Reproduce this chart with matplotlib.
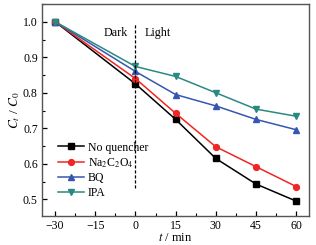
import matplotlib
matplotlib.use("Agg")
import matplotlib.pyplot as plt
from matplotlib.ticker import MultipleLocator

plt.rcParams["font.family"] = ["Liberation Serif", "DejaVu Serif"]
plt.rcParams["mathtext.fontset"] = "stix"

t = [-30, 0, 15, 30, 45, 60]
no_quencher = [1.0, 0.825, 0.725, 0.615, 0.543, 0.495]
na2c2o4 = [1.0, 0.840, 0.742, 0.648, 0.592, 0.536]
bq = [1.0, 0.860, 0.795, 0.763, 0.725, 0.696]
ipa = [1.0, 0.874, 0.846, 0.800, 0.754, 0.734]

fig = plt.figure(figsize=(3.16, 2.45), dpi=100)
ax = fig.add_axes([42 / 316, 1 - 216 / 245, 267 / 316, 212 / 245])

ax.plot(t, no_quencher, color="black", marker="s", ms=4, lw=1.1, label="No quencher")
ax.plot(t, na2c2o4, color="#f02525", marker="o", ms=4.2, lw=1.1, label="Na$_2$C$_2$O$_4$")
ax.plot(t, bq, color="#3557b0", marker="^", ms=4.5, lw=1.1, label="BQ")
ax.plot(t, ipa, color="#2a8a82", marker="v", ms=4.5, lw=1.1, label="IPA")

ax.plot([0, 0], [0.532, 0.997], color="black", ls="--", lw=0.9, dashes=(2.5, 1.5))
ax.text(-2.9, 0.968, "Dark", ha="right", va="center", fontsize=8.7)
ax.text(3.5, 0.968, "Light", ha="left", va="center", fontsize=8.7)

ax.set_xlim(-34.9, 64.8)
ax.set_ylim(0.453, 1.05)
ax.xaxis.set_major_locator(MultipleLocator(15))
ax.xaxis.set_minor_locator(MultipleLocator(7.5))
ax.yaxis.set_major_locator(MultipleLocator(0.1))
ax.yaxis.set_minor_locator(MultipleLocator(0.05))
ax.yaxis.set_major_formatter(plt.FormatStrFormatter("%.1f"))
ax.tick_params(which="major", direction="in", length=3.5, width=0.9, labelsize=8.5, pad=3)
ax.tick_params(which="minor", direction="in", length=2, width=0.8)
for s in ax.spines.values():
    s.set_color("#555555")
    s.set_linewidth(1.0)

ax.set_xlabel("$t$ / min", fontsize=9, labelpad=0)
ax.set_ylabel("$C_t$ / $C_0$", fontsize=9.5, labelpad=1)

ax.legend(loc="upper left", bbox_to_anchor=(0.03, 0.39), frameon=False, fontsize=8.5,
          handlelength=2.2, handletextpad=0.3, labelspacing=0.22, borderpad=0.2)

fig.savefig("out.png", dpi=100)
